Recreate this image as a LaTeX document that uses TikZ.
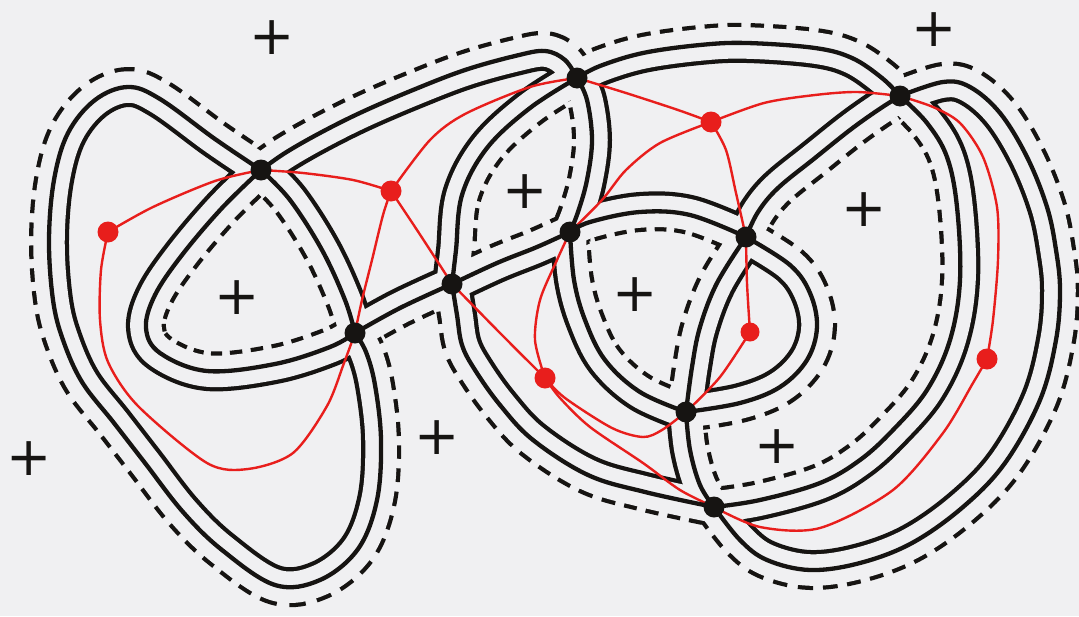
\documentclass[tikz,border=0pt]{standalone}
\usepackage{fontspec}
\usepackage{xcolor}
\newfontfamily\plusfont{DejaVu Sans}
\definecolor{paper}{RGB}{240,240,242}
\definecolor{ink}{RGB}{22,20,18}
\definecolor{pen}{RGB}{232,30,28}

\makeatletter
% Punktliste umdrehen
\def\revpts#1#2{\gdef#2{}\expandafter\revpts@i#1\revpts@end#2}
\def\revpts@i(#1)#2\revpts@end#3{%
  \xdef#3{(#1)\unexpanded\expandafter{#3}}%
  \ifx\relax#2\relax\else\revpts@i#2\revpts@end#3\fi}
\makeatother
% Kante vorwaerts (\edgeX) und rueckwaerts (\edgeXr)
\newcommand\mkedge[2]{%
  \gdef\tmpfwd{#2}\revpts\tmpfwd\tmprev
  \expandafter\xdef\csname edge#1\endcsname{plot[smooth,tension=.6] coordinates{#2}}%
  \expandafter\xdef\csname edge#1r\endcsname{plot[smooth,tension=.6] coordinates{\tmprev}}}
% Parallelkurve innerhalb eines Gebiets
\newcommand\facering[2]{\xdef\facepath{#2}%
  \begin{scope}\clip \facepath;\draw[#1] \facepath;\draw[ringpaper] \facepath;\end{scope}}

\begin{document}
\begin{tikzpicture}[x=1pt, y=-1pt,
    knot/.style={draw=ink, line width=4.3pt, line cap=round, line join=round},
    ring/.style={draw=ink, line width=40pt, line join=round},
    ringdash/.style={ring, dash pattern=on 13pt off 9pt},
    ringpaper/.style={draw=paper, line width=31.5pt, line join=round},
    tait/.style={draw=pen, line width=2.4pt, line cap=round},
    vdot/.style={circle, fill=ink, inner sep=0pt, minimum size=21pt},
    rdot/.style={circle, fill=pen, inner sep=0pt, minimum size=21pt},
    plus/.style={font=\plusfont\fontsize{54}{54}\selectfont, text=ink, inner sep=0pt}]
    \useasboundingbox (0,0) rectangle (1079,616);
    \fill[paper] (0,0) rectangle (1079,616);
    % Kreuzungen
    \coordinate (v1) at (261,170);
    \coordinate (v2) at (355,333);
    \coordinate (v3) at (452,284);
    \coordinate (v4) at (577,78);
    \coordinate (v5) at (570,232);
    \coordinate (v6) at (746,237);
    \coordinate (v7) at (686,412);
    \coordinate (v8) at (714,507);
    \coordinate (v9) at (900,96);
    % Kanten
    \mkedge{A}{(v1)(215,139)(160,99)(128,87)(95,100)(68,133)(54,180)(49,240)(53,300)(63,340)(82,382)(114,423)(145,463)(183,512)(222,550)(275,585)(320,580)(358,549)(377,500)(381,440)(375,385)(366,352)(v2)}
    \mkedge{B}{(v1)(290,200)(322,250)(345,300)(v2)}
    \mkedge{C}{(v1)(285,153)(320,133)(362,112)(413,90)(465,70)(515,56)(545,51)(565,60)(v4)}
    \mkedge{D}{(v1)(222,208)(182,255)(155,295)(146,328)(160,353)(207,371)(275,364)(330,347)(v2)}
    \mkedge{E}{(v2)(400,308)(v3)}
    \mkedge{F}{(v3)(497,263)(537,247)(v5)}
    \mkedge{G}{(v3)(456,250)(462,195)(487,148)(530,108)(v4)}
    \mkedge{H}{(v3)(457,315)(462,345)(475,370)(500,405)(533,440)(588,475)(645,492)(v8)}
    \mkedge{I}{(v4)(587,100)(592,140)(587,180)(578,212)(v5)}
    \mkedge{J}{(v4)(600,66)(643,53)(700,45)(747,43)(815,48)(852,58)(882,78)(v9)}
    \mkedge{K}{(v5)(590,222)(640,212)(690,215)(v6)}
    \mkedge{L}{(v5)(574,280)(585,320)(605,360)(640,392)(v7)}
    \mkedge{M}{(v9)(878,110)(850,130)(815,158)(778,188)(758,212)(v6)}
    \mkedge{N}{(v6)(717,283)(700,327)(692,367)(v7)}
    \mkedge{O}{(v6)(790,265)(810,293)(817,327)(807,360)(780,387)(740,403)(v7)}
    \mkedge{P}{(v7)(690,450)(700,485)(v8)}
    \mkedge{Q}{(v8)(760,500)(820,483)(860,460)(893,430)(927,390)(950,340)(960,280)(957,207)(947,157)(927,123)(v9)}
    \mkedge{R}{(v8)(740,540)(767,560)(810,570)(860,563)(912,543)(963,507)(1005,463)(1040,400)(1056,340)(1060,290)(1056,250)(1047,207)(1027,157)(1000,113)(970,87)(943,82)(v9)}
    % Aussengebiet
    \xdef\outerpath{\edgeA -- \edgeE -- \edgeH -- \edgeR -- \edgeJr -- \edgeCr -- cycle}
    \begin{scope}[even odd rule]
      \clip (-40,-40) rectangle (1120,660) \outerpath;
      \draw[ringdash] \outerpath;
      \draw[ringpaper] \outerpath;
    \end{scope}
    % Gebiete mit +
    \facering{ringdash}{\edgeB -- \edgeDr -- cycle}
    \facering{ringdash}{\edgeG -- \edgeI -- \edgeFr -- cycle}
    \facering{ringdash}{\edgeK -- \edgeN -- \edgeLr -- cycle}
    \facering{ringdash}{\edgeM -- \edgeO -- \edgeP -- \edgeQ -- cycle}
    % Gebiete mit rotem Punkt
    \facering{ring}{\edgeA -- \edgeDr -- cycle}
    \facering{ring}{\edgeC -- \edgeGr -- \edgeEr -- \edgeBr -- cycle}
    \facering{ring}{\edgeJ -- \edgeM -- \edgeKr -- \edgeIr -- cycle}
    \facering{ring}{\edgeF -- \edgeL -- \edgeP -- \edgeHr -- cycle}
    \facering{ring}{\edgeN -- \edgeOr -- cycle}
    \facering{ring}{\edgeQ -- \edgeRr -- cycle}
    % roter Graph
    \node[rdot] (r1) at (108,232) {};
    \node[rdot] (r2) at (391,191) {};
    \node[rdot] (r3) at (711,122) {};
    \node[rdot] (r4) at (545,378) {};
    \node[rdot, minimum size=19pt] (r5) at (750,332) {};
    \node[rdot] (r6) at (987,359) {};
    \draw[tait] plot[smooth] coordinates {(r1.center)(153,207)(215,181)(v1)};
    \draw[tait] plot[smooth] coordinates {(v1)(303,173)(353,180)(r2.center)};
    \draw[tait] plot[smooth] coordinates {(r1.center)(101,270)(100,320)(108,362)(138,406)(207,463)(248,469)(293,453)(327,406)(344,363)(v2)};
    \draw[tait] plot[smooth] coordinates {(v2)(362,300)(372,260)(383,215)(r2.center)};
    \draw[tait] plot[smooth] coordinates {(r2.center)(430,140)(465,114)(530,87)(v4)};
    \draw[tait] plot[smooth] coordinates {(r2.center)(417,230)(443,270)(v3)};
    \draw[tait] plot[smooth] coordinates {(v3)(500,333)(r4.center)};
    \draw[tait] plot[smooth] coordinates {(v4)(626,93)(678,110)(r3.center)};
    \draw[tait] plot[smooth] coordinates {(r3.center)(764,103)(815,95)(857,92)(v9)};
    \draw[tait] plot[smooth] coordinates {(r3.center)(660,143)(626,170)(602,200)(v5)};
    \draw[tait] plot[smooth] coordinates {(v5)(557,260)(540,300)(535,340)(r4.center)};
    \draw[tait] plot[smooth] coordinates {(r3.center)(726,150)(736,193)(v6)};
    \draw[tait] plot[smooth] coordinates {(v6)(747,283)(r5.center)};
    \draw[tait] plot[smooth] coordinates {(r5.center)(720,377)(v7)};
    \draw[tait] plot[smooth] coordinates {(v7)(662,430)(643,437)(612,428)(565,398)(r4.center)};
    \draw[tait] plot[smooth] coordinates {(r4.center)(560,398)(590,427)(643,463)(680,490)(v8)};
    \draw[tait] plot[smooth] coordinates {(v8)(760,527)(820,528)(893,490)(943,433)(973,383)(r6.center)};
    \draw[tait] plot[smooth] coordinates {(r6.center)(993,320)(998,260)(997,207)(983,157)(960,123)(933,107)(v9)};
    % Diagramm
    \xdef\knotpath{\edgeA\space\edgeB\space\edgeC\space\edgeD\space\edgeE\space\edgeF\space\edgeG\space\edgeH\space\edgeI\space\edgeJ\space\edgeK\space\edgeL\space\edgeM\space\edgeN\space\edgeO\space\edgeP\space\edgeQ\space\edgeR}
    \draw[knot] \knotpath;
    \foreach \i in {1,...,9} \node[vdot] (dot\i) at (v\i) {};
    % Vorzeichen
    \foreach \x/\y [count=\i] in {272/38, 934/30, 29/459, 437/438, 237/298, 525/192, 864/210, 635/295, 777/447}
      \node[plus] (plus\i) at (\x,\y) {+};
\end{tikzpicture}
\end{document}
